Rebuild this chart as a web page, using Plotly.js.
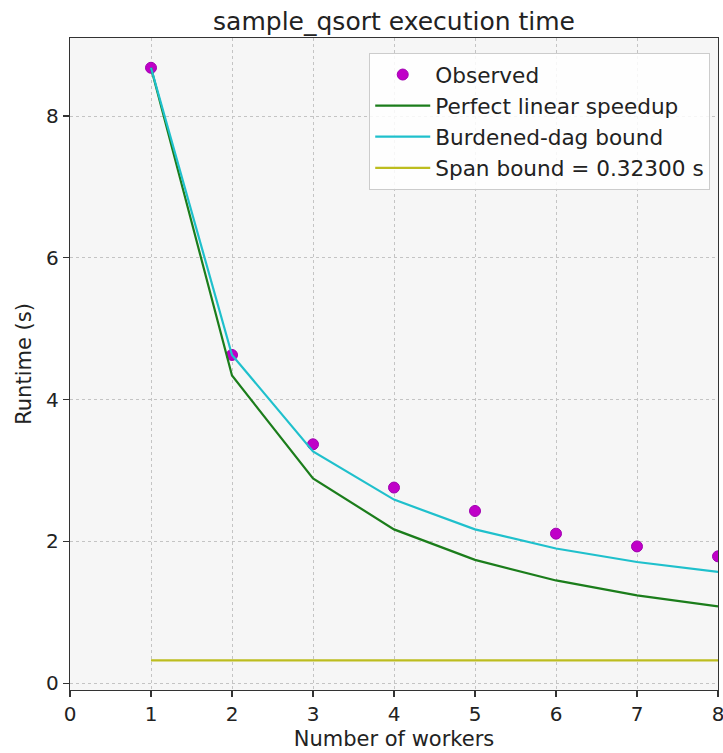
<!DOCTYPE html>
<html><head><meta charset="utf-8">
<script src="https://cdn.plot.ly/plotly-3.0.1.min.js"></script>
<style>body{margin:0;background:#fff}#chart{width:723px;height:753px}</style>
</head><body><div id="chart"></div>
<script>
const workers = [1, 2, 3, 4, 5, 6, 7, 8];
const observed = [8.68, 4.63, 3.37, 2.76, 2.43, 2.11, 1.93, 1.79];
const perfect = [8.68, 4.34, 2.89, 2.17, 1.74, 1.45, 1.24, 1.085];
const burdened = [8.68, 4.63, 3.27, 2.59, 2.17, 1.90, 1.71, 1.57];
const spanX = [1, 8];
const spanY = [0.323, 0.323];

const font = "DejaVu Sans, sans-serif";
const traces = [
  {x: workers, y: observed, mode: 'markers', name: 'Observed', legendgroup: 'a',
   marker: {color: '#c000c8', size: 11, line: {color: '#a000b0', width: 1}}},
  {x: workers, y: perfect, mode: 'lines', name: 'Perfect linear speedup', legendgroup: 'b',
   line: {color: '#1b7d1b', width: 2.2}},
  {x: workers, y: burdened, mode: 'lines', name: 'Burdened-dag bound', legendgroup: 'c',
   line: {color: '#1fc0cc', width: 2.2}},
  {x: spanX, y: spanY, mode: 'lines', name: 'Span bound = 0.32300 s', legendgroup: 'd',
   line: {color: '#bdbd1f', width: 2.2}}
];
const axisCommon = {
  showline: true, mirror: true, linecolor: '#333', linewidth: 1.3,
  ticks: 'outside', ticklen: 6, tickcolor: '#333', tickwidth: 1.2,
  showgrid: true, gridcolor: '#c4c4c4', griddash: 'dot', gridwidth: 1,
  zeroline: false, tickfont: {family: font, size: 20, color: '#222'},
  ticklabeloverflow: 'allow'
};
const layout = {
  width: 723, height: 753,
  margin: {l: 70, r: 5, t: 38, b: 63},
  paper_bgcolor: '#ffffff', plot_bgcolor: '#f6f6f6',
  font: {family: font, color: '#222'},
  title: {text: 'sample_qsort execution time', font: {family: font, size: 25, color: '#222'},
          x: 0.545, xanchor: 'center', y: 0.972, yanchor: 'middle'},
  xaxis: Object.assign({}, axisCommon, {range: [0, 8], tickvals: [0,1,2,3,4,5,6,7,8],
    title: {text: 'Number of workers', font: {family: font, size: 21, color: '#222'}, standoff: 6}}),
  yaxis: Object.assign({}, axisCommon, {range: [-0.095, 9.1], tickvals: [0,2,4,6,8],
    title: {text: 'Runtime (s)', font: {family: font, size: 21, color: '#222'}, standoff: 8}}),
  legend: {x: 0.988, xanchor: 'right', y: 0.977, yanchor: 'top',
    bgcolor: 'rgba(255,255,255,0.85)', bordercolor: '#cccccc', borderwidth: 1,
    font: {family: font, size: 21.6, color: '#222'}, tracegroupgap: 0, itemwidth: 55},
  showlegend: true
};
Plotly.newPlot('chart', traces, layout, {displayModeBar: false, staticPlot: true});
</script>
</body></html>
